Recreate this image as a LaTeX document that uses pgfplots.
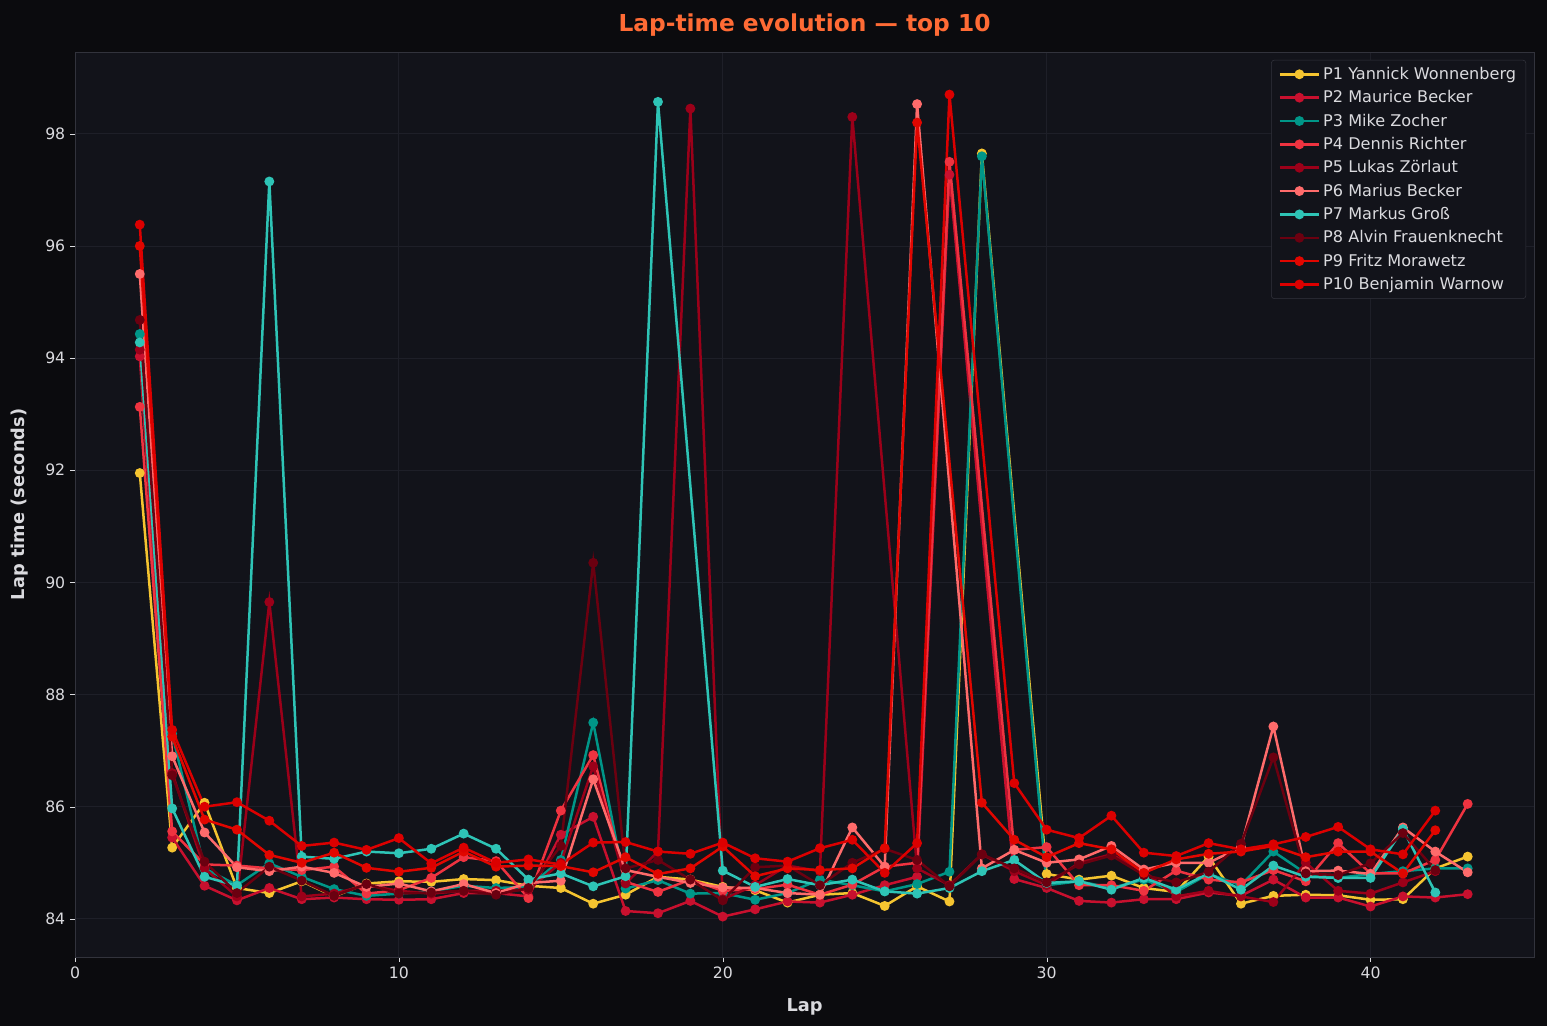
\documentclass[border=0pt]{standalone}
\usepackage{fontspec}
\setmainfont{DejaVu Sans}
\usepackage{pgfplots}
\pgfplotsset{compat=1.18}
\definecolor{figbg}{RGB}{11,11,14}
\definecolor{axbg}{RGB}{18,19,26}
\definecolor{gridc}{RGB}{30,31,40}
\definecolor{framec}{RGB}{50,51,60}
\definecolor{tlc}{RGB}{218,218,222}
\definecolor{titlec}{RGB}{255,107,53}
\definecolor{cA}{RGB}{245,196,48}
\definecolor{cB}{RGB}{200,16,46}
\definecolor{cC}{RGB}{0,150,136}
\definecolor{cD}{RGB}{239,51,64}
\definecolor{cE}{RGB}{155,0,25}
\definecolor{cF}{RGB}{255,107,107}
\definecolor{cG}{RGB}{46,196,182}
\definecolor{cH}{RGB}{107,0,16}
\definecolor{cI}{RGB}{225,6,0}
\definecolor{cJ}{RGB}{220,0,0}
\begin{document}
\begin{tikzpicture}
\path[use as bounding box, fill=figbg] (-54pt,-49.7pt) rectangle (1059.8pt,689pt);
\begin{axis}[
  scale only axis, width=1050.5pt, height=651.6pt,
  xmin=0, xmax=45.05, ymin=83.32, ymax=99.46,
  axis background/.style={fill=axbg},
  axis line style={draw=framec},
  xtick={0,10,20,30,40}, ytick={84,86,88,90,92,94,96,98},
  grid=major, grid style={draw=gridc, line width=0.6pt},
  tick align=outside, major tick length=3.5pt, tick style={draw=tlc},
  xtick pos=bottom, ytick pos=left,
  ticklabel style={text=tlc, font=\fontsize{11.3}{13}\selectfont},
  /pgf/number format/assume math mode=true,
  xlabel={Lap}, ylabel={Lap time (seconds)},
  label style={text=tlc, font=\fontsize{12.8}{15}\selectfont\bfseries},
  xlabel style={at={(axis description cs:0.5,-0.055)}, anchor=center},
  ylabel style={at={(axis description cs:-0.0377,0.5)}, anchor=center},
  title={Lap-time evolution — top 10},
  title style={at={(axis description cs:0.5,1.021)}, anchor=center, yshift=0pt, text=titlec, font=\fontsize{16.8}{19}\selectfont\bfseries},
  legend style={at={(axis description cs:0.9945,0.9912)}, anchor=north east,
     fill=axbg, draw=framec, rounded corners=2pt, text=tlc,
     font=\fontsize{11.6}{13}\selectfont, row sep=2.5pt, inner xsep=5pt, inner ysep=3pt},
  legend cell align=left,
  legend image code/.code={\draw[mark repeat=2,mark phase=2] plot coordinates {(0cm,0cm)(0.5cm,0cm)(1.0cm,0cm)};},
  every axis plot/.append style={line width=1.8pt, mark=*, mark size=2.6pt, mark options={solid}},
]
\addplot[color=cA] coordinates {(2,91.95)(3,85.27)(4,86.07)(5,84.55)(6,84.46)(7,84.67)(8,84.4)(9,84.63)(10,84.67)(11,84.66)(12,84.71)(13,84.69)(14,84.59)(15,84.55)(16,84.27)(17,84.43)(18,84.75)(19,84.7)(20,84.57)(21,84.51)(22,84.29)(23,84.43)(24,84.46)(25,84.23)(26,84.58)(27,84.31)(28,97.65)(30,84.8)(31,84.7)(32,84.77)(33,84.55)(34,84.48)(35,85.11)(36,84.27)(37,84.41)(38,84.43)(39,84.42)(40,84.34)(41,84.35)(42,84.9)(43,85.11)};
\addlegendentry{P1 Yannick Wonnenberg}
\addplot[color=cB] coordinates {(2,94.03)(3,85.45)(4,84.59)(5,84.33)(6,84.55)(7,84.35)(8,84.38)(9,84.35)(10,84.34)(11,84.35)(12,84.46)(13,84.46)(14,84.4)(15,85.5)(16,85.82)(17,84.14)(18,84.1)(19,84.32)(20,84.04)(21,84.17)(22,84.31)(23,84.29)(24,84.43)(25,84.6)(26,84.75)(27,97.27)(29,84.71)(30,84.55)(31,84.32)(32,84.29)(33,84.35)(34,84.35)(35,84.47)(36,84.41)(37,84.7)(38,84.38)(39,84.38)(40,84.22)(41,84.4)(42,84.38)(43,84.44)};
\addlegendentry{P2 Maurice Becker}
\addplot[color=cC] coordinates {(2,94.43)(3,87.3)(4,84.9)(5,84.6)(6,84.99)(7,84.75)(8,84.53)(9,84.41)(10,84.45)(11,84.49)(12,84.59)(13,84.55)(14,84.57)(15,85.05)(16,87.5)(17,84.54)(18,84.69)(19,84.45)(20,84.46)(21,84.34)(22,84.46)(23,84.7)(24,84.6)(25,84.49)(26,84.62)(27,84.84)(28,97.6)(30,84.6)(31,84.67)(32,84.55)(33,84.7)(34,84.48)(35,84.8)(36,84.6)(37,85.2)(38,84.81)(39,84.73)(40,84.8)(41,84.85)(42,84.9)(43,84.9)};
\addlegendentry{P3 Mike Zocher}
\addplot[color=cD] coordinates {(2,93.13)(3,85.56)(4,84.97)(5,84.95)(6,84.9)(7,84.87)(8,84.93)(9,84.45)(10,84.51)(11,84.73)(12,85.1)(13,85.03)(14,84.37)(15,85.93)(16,86.92)(17,84.66)(18,84.48)(19,84.7)(20,84.5)(21,84.53)(22,84.61)(23,84.43)(24,84.61)(25,84.93)(26,85.0)(27,97.5)(29,85.23)(30,85.28)(31,84.6)(32,84.6)(33,84.5)(34,84.86)(35,84.7)(36,84.65)(37,84.87)(38,84.67)(39,85.35)(40,84.81)(41,84.81)(42,85.05)(43,86.05)};
\addlegendentry{P4 Dennis Richter}
\addplot[color=cE] coordinates {(2,94.15)(3,86.6)(4,84.9)(5,84.4)(6,89.65)(7,84.4)(8,84.45)(9,84.6)(10,84.5)(11,84.45)(12,84.5)(13,84.5)(14,84.52)(15,85.0)(16,86.72)(17,84.63)(18,85.2)(19,98.45)(20,84.35)(21,84.6)(22,84.95)(23,84.85)(24,98.3)(26,84.9)(27,84.6)(28,85.15)(29,84.85)(30,84.6)(31,85.0)(32,85.15)(33,84.85)(34,84.4)(35,84.5)(36,84.4)(37,84.3)(38,85.0)(39,84.5)(40,84.45)(41,84.65)(42,84.85)};
\addlegendentry{P5 Lukas Zörlaut}
\addplot[color=cF] coordinates {(2,95.5)(3,86.9)(4,85.54)(5,84.92)(6,84.85)(7,84.93)(8,84.82)(9,84.57)(10,84.63)(11,84.49)(12,84.62)(13,84.46)(14,84.64)(15,84.68)(16,86.49)(17,84.87)(18,84.75)(19,84.64)(20,84.56)(21,84.55)(22,84.46)(23,84.43)(24,85.63)(25,84.93)(26,98.53)(28,84.9)(29,85.23)(30,85.0)(31,85.06)(32,85.3)(33,84.88)(34,85.0)(35,85.0)(36,85.28)(37,87.43)(38,84.85)(39,84.86)(40,84.8)(41,85.63)(42,85.2)(43,84.83)};
\addlegendentry{P6 Marius Becker}
\addplot[color=cG] coordinates {(2,94.28)(3,85.97)(4,84.75)(5,84.59)(6,97.15)(7,85.11)(8,85.07)(9,85.2)(10,85.17)(11,85.25)(12,85.52)(13,85.25)(14,84.7)(15,84.81)(16,84.58)(17,84.76)(18,98.57)(20,84.86)(21,84.57)(22,84.71)(23,84.6)(24,84.7)(25,84.49)(26,84.45)(27,84.55)(28,84.85)(29,85.05)(30,84.64)(31,84.67)(32,84.52)(33,84.73)(34,84.52)(35,84.81)(36,84.52)(37,84.95)(38,84.75)(39,84.73)(40,84.73)(41,85.6)(42,84.47)};
\addlegendentry{P7 Markus Groß}
\addplot[color=cH] coordinates {(2,94.68)(3,86.56)(4,85.02)(5,84.46)(6,84.93)(7,84.68)(8,84.41)(9,84.62)(10,84.45)(11,84.47)(12,84.5)(13,84.43)(14,84.55)(15,85.3)(16,90.35)(17,84.9)(18,85.05)(19,84.7)(20,84.33)(21,84.92)(22,84.95)(23,84.6)(24,85.0)(25,85.25)(26,85.05)(27,84.58)(28,85.15)(29,84.9)(30,84.65)(31,84.97)(32,85.13)(33,84.78)(34,84.65)(35,84.84)(36,85.34)(37,86.88)(38,84.81)(39,84.78)(40,84.99)(41,85.53)(42,84.87)};
\addlegendentry{P8 Alvin Frauenknecht}
\addplot[color=cI] coordinates {(2,96.0)(3,87.25)(4,85.77)(5,85.59)(6,85.14)(7,85.0)(8,85.18)(9,84.91)(10,84.84)(11,84.91)(12,85.2)(13,84.93)(14,84.95)(15,84.94)(16,84.83)(17,85.1)(18,84.8)(19,84.9)(20,85.29)(21,84.76)(22,84.9)(23,84.87)(24,84.9)(25,85.26)(26,98.2)(28,86.07)(29,85.41)(30,85.1)(31,85.35)(32,85.24)(33,84.82)(34,85.06)(35,85.16)(36,85.2)(37,85.3)(38,85.1)(39,85.2)(40,85.2)(41,84.81)(42,85.58)};
\addlegendentry{P9 Fritz Morawetz}
\addplot[color=cJ] coordinates {(2,96.38)(3,87.37)(4,86.0)(5,86.08)(6,85.75)(7,85.3)(8,85.36)(9,85.23)(10,85.44)(11,84.99)(12,85.27)(13,85.0)(14,85.06)(15,84.97)(16,85.36)(17,85.37)(18,85.2)(19,85.16)(20,85.36)(21,85.08)(22,85.02)(23,85.26)(24,85.41)(25,84.82)(26,85.35)(27,98.7)(29,86.42)(30,85.59)(31,85.44)(32,85.84)(33,85.18)(34,85.12)(35,85.35)(36,85.24)(37,85.33)(38,85.46)(39,85.64)(40,85.24)(41,85.15)(42,85.93)};
\addlegendentry{P10 Benjamin Warnow}
\end{axis}
\end{tikzpicture}
\end{document}
